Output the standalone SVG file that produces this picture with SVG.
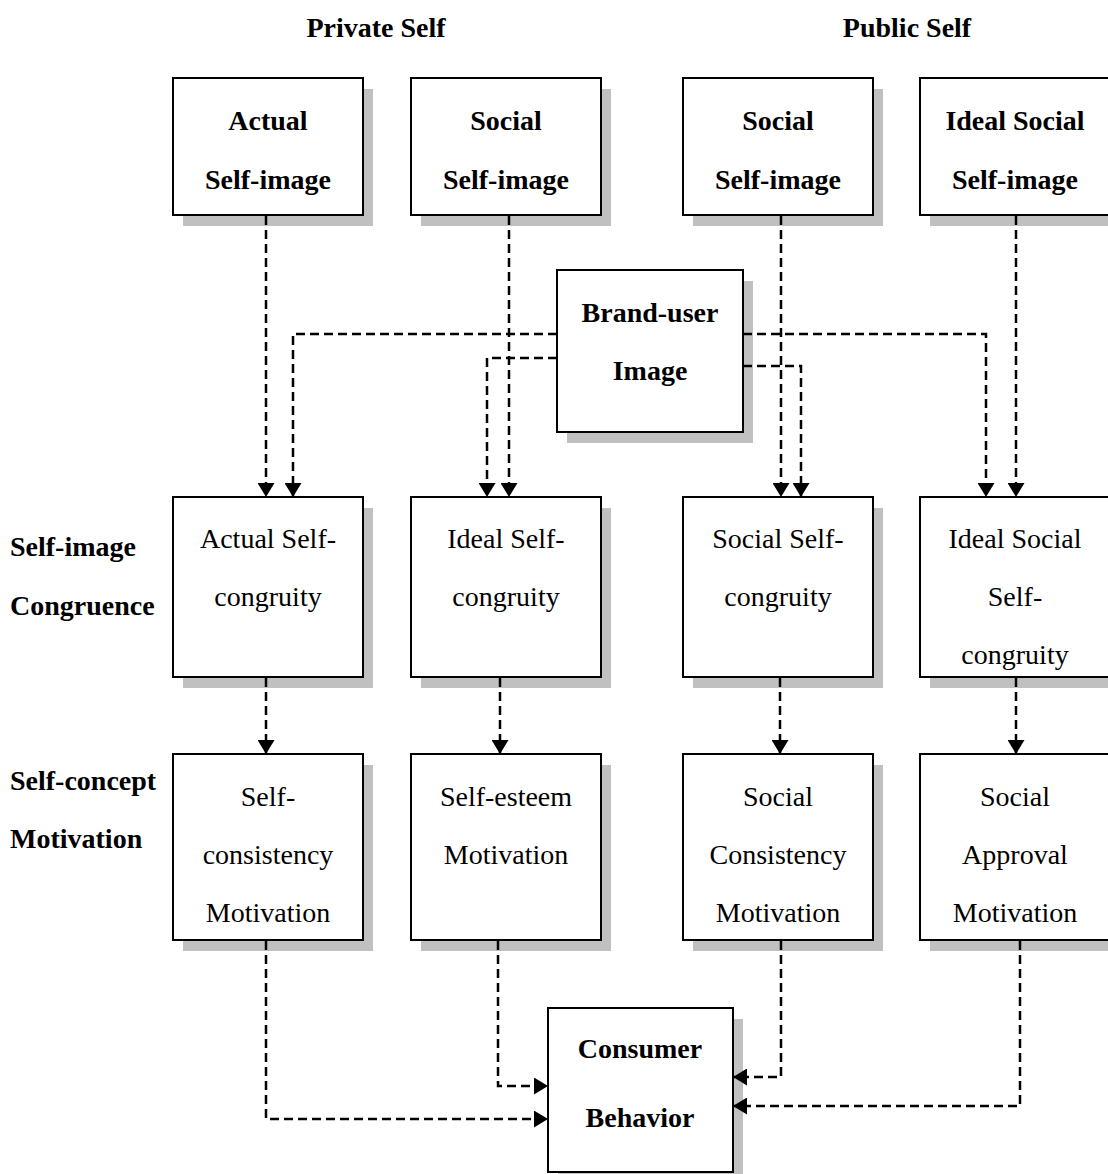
<svg xmlns="http://www.w3.org/2000/svg" width="1108" height="1174" viewBox="0 0 1108 1174">
<style>
.box{fill:#fff;stroke:#000;stroke-width:2}
.sh{fill:#c0c0c0}
text{font-family:"Liberation Serif","Times New Roman",serif;font-size:28px;fill:#000}
.b{font-weight:bold}
.c{text-anchor:middle}
.cn path{fill:none;stroke:#000;stroke-width:2.5;stroke-dasharray:9,5}
</style>
<defs>
<marker id="ah" markerUnits="userSpaceOnUse" viewBox="0 0 14 17" refX="14" refY="8.5" markerWidth="14" markerHeight="17" orient="auto">
<path d="M0,0 L14,8.5 L0,17 z" fill="#000" stroke="none"/>
</marker>
</defs>
<rect width="1108" height="1174" fill="#fff"/>

<g id="headers">
<text class="b c" x="376" y="37">Private Self</text>
<text class="b c" x="907" y="37">Public Self</text>
</g>
<g id="row-labels">
<text class="b" x="10" y="556">Self-image</text>
<text class="b" x="10" y="615">Congruence</text>
<text class="b" x="10" y="790">Self-concept</text>
<text class="b" x="10" y="848">Motivation</text>
</g>

<g id="actual-self-image">
<rect class="sh" x="183" y="89" width="190" height="137"/>
<rect class="box" x="173" y="78" width="190" height="137"/>
<text class="b c" x="268" y="130">Actual</text>
<text class="b c" x="268" y="189">Self-image</text>
</g>
<g id="social-self-image-private">
<rect class="sh" x="421" y="89" width="190" height="137"/>
<rect class="box" x="411" y="78" width="190" height="137"/>
<text class="b c" x="506" y="130">Social</text>
<text class="b c" x="506" y="189">Self-image</text>
</g>
<g id="social-self-image-public">
<rect class="sh" x="693" y="89" width="190" height="137"/>
<rect class="box" x="683" y="78" width="190" height="137"/>
<text class="b c" x="778" y="130">Social</text>
<text class="b c" x="778" y="189">Self-image</text>
</g>
<g id="ideal-social-self-image">
<rect class="sh" x="930" y="89" width="190" height="137"/>
<rect class="box" x="920" y="78" width="190" height="137"/>
<text class="b c" x="1015" y="130">Ideal Social</text>
<text class="b c" x="1015" y="189">Self-image</text>
</g>

<g id="brand-user-image">
<rect class="sh" x="567" y="281" width="186" height="162"/>
<rect class="box" x="557" y="270" width="186" height="162"/>
<text class="b c" x="650" y="322">Brand-user</text>
<text class="b c" x="650" y="380">Image</text>
</g>

<g id="actual-self-congruity">
<rect class="sh" x="183" y="508" width="190" height="180"/>
<rect class="box" x="173" y="497" width="190" height="180"/>
<text class="c" x="268" y="548">Actual Self-</text>
<text class="c" x="268" y="606">congruity</text>
</g>
<g id="ideal-self-congruity">
<rect class="sh" x="421" y="508" width="190" height="180"/>
<rect class="box" x="411" y="497" width="190" height="180"/>
<text class="c" x="506" y="548">Ideal Self-</text>
<text class="c" x="506" y="606">congruity</text>
</g>
<g id="social-self-congruity">
<rect class="sh" x="693" y="508" width="190" height="180"/>
<rect class="box" x="683" y="497" width="190" height="180"/>
<text class="c" x="778" y="548">Social Self-</text>
<text class="c" x="778" y="606">congruity</text>
</g>
<g id="ideal-social-self-congruity">
<rect class="sh" x="930" y="508" width="190" height="180"/>
<rect class="box" x="920" y="497" width="190" height="180"/>
<text class="c" x="1015" y="548">Ideal Social</text>
<text class="c" x="1015" y="606">Self-</text>
<text class="c" x="1015" y="664">congruity</text>
</g>

<g id="self-consistency-motivation">
<rect class="sh" x="183" y="765" width="190" height="186"/>
<rect class="box" x="173" y="754" width="190" height="186"/>
<text class="c" x="268" y="806">Self-</text>
<text class="c" x="268" y="864">consistency</text>
<text class="c" x="268" y="922">Motivation</text>
</g>
<g id="self-esteem-motivation">
<rect class="sh" x="421" y="765" width="190" height="186"/>
<rect class="box" x="411" y="754" width="190" height="186"/>
<text class="c" x="506" y="806">Self-esteem</text>
<text class="c" x="506" y="864">Motivation</text>
</g>
<g id="social-consistency-motivation">
<rect class="sh" x="693" y="765" width="190" height="186"/>
<rect class="box" x="683" y="754" width="190" height="186"/>
<text class="c" x="778" y="806">Social</text>
<text class="c" x="778" y="864">Consistency</text>
<text class="c" x="778" y="922">Motivation</text>
</g>
<g id="social-approval-motivation">
<rect class="sh" x="930" y="765" width="190" height="186"/>
<rect class="box" x="920" y="754" width="190" height="186"/>
<text class="c" x="1015" y="806">Social</text>
<text class="c" x="1015" y="864">Approval</text>
<text class="c" x="1015" y="922">Motivation</text>
</g>

<g id="consumer-behavior">
<rect class="sh" x="558" y="1019" width="185" height="165"/>
<rect class="box" x="548" y="1008" width="185" height="164"/>
<text class="b c" x="640" y="1058">Consumer</text>
<text class="b c" x="640" y="1127">Behavior</text>
</g>

<g class="cn" id="connectors">
<path d="M266,216 V497" marker-end="url(#ah)"/>
<path d="M509,216 V497" marker-end="url(#ah)"/>
<path d="M781,216 V497" marker-end="url(#ah)"/>
<path d="M1016,216 V497" marker-end="url(#ah)"/>
<path d="M557,334 H293 V497" marker-end="url(#ah)"/>
<path d="M557,358 H487 V497" marker-end="url(#ah)"/>
<path d="M743,334 H986 V497" marker-end="url(#ah)"/>
<path d="M743,366 H801 V497" marker-end="url(#ah)"/>
<path d="M266,678 V754" marker-end="url(#ah)"/>
<path d="M500,678 V754" marker-end="url(#ah)"/>
<path d="M780,678 V754" marker-end="url(#ah)"/>
<path d="M1016,678 V754" marker-end="url(#ah)"/>
<path d="M266,941 V1119 H548" marker-end="url(#ah)"/>
<path d="M498,941 V1086 H548" marker-end="url(#ah)"/>
<path d="M781,941 V1077 H733" marker-end="url(#ah)"/>
<path d="M1020,941 V1106 H733" marker-end="url(#ah)"/>
</g>
</svg>
